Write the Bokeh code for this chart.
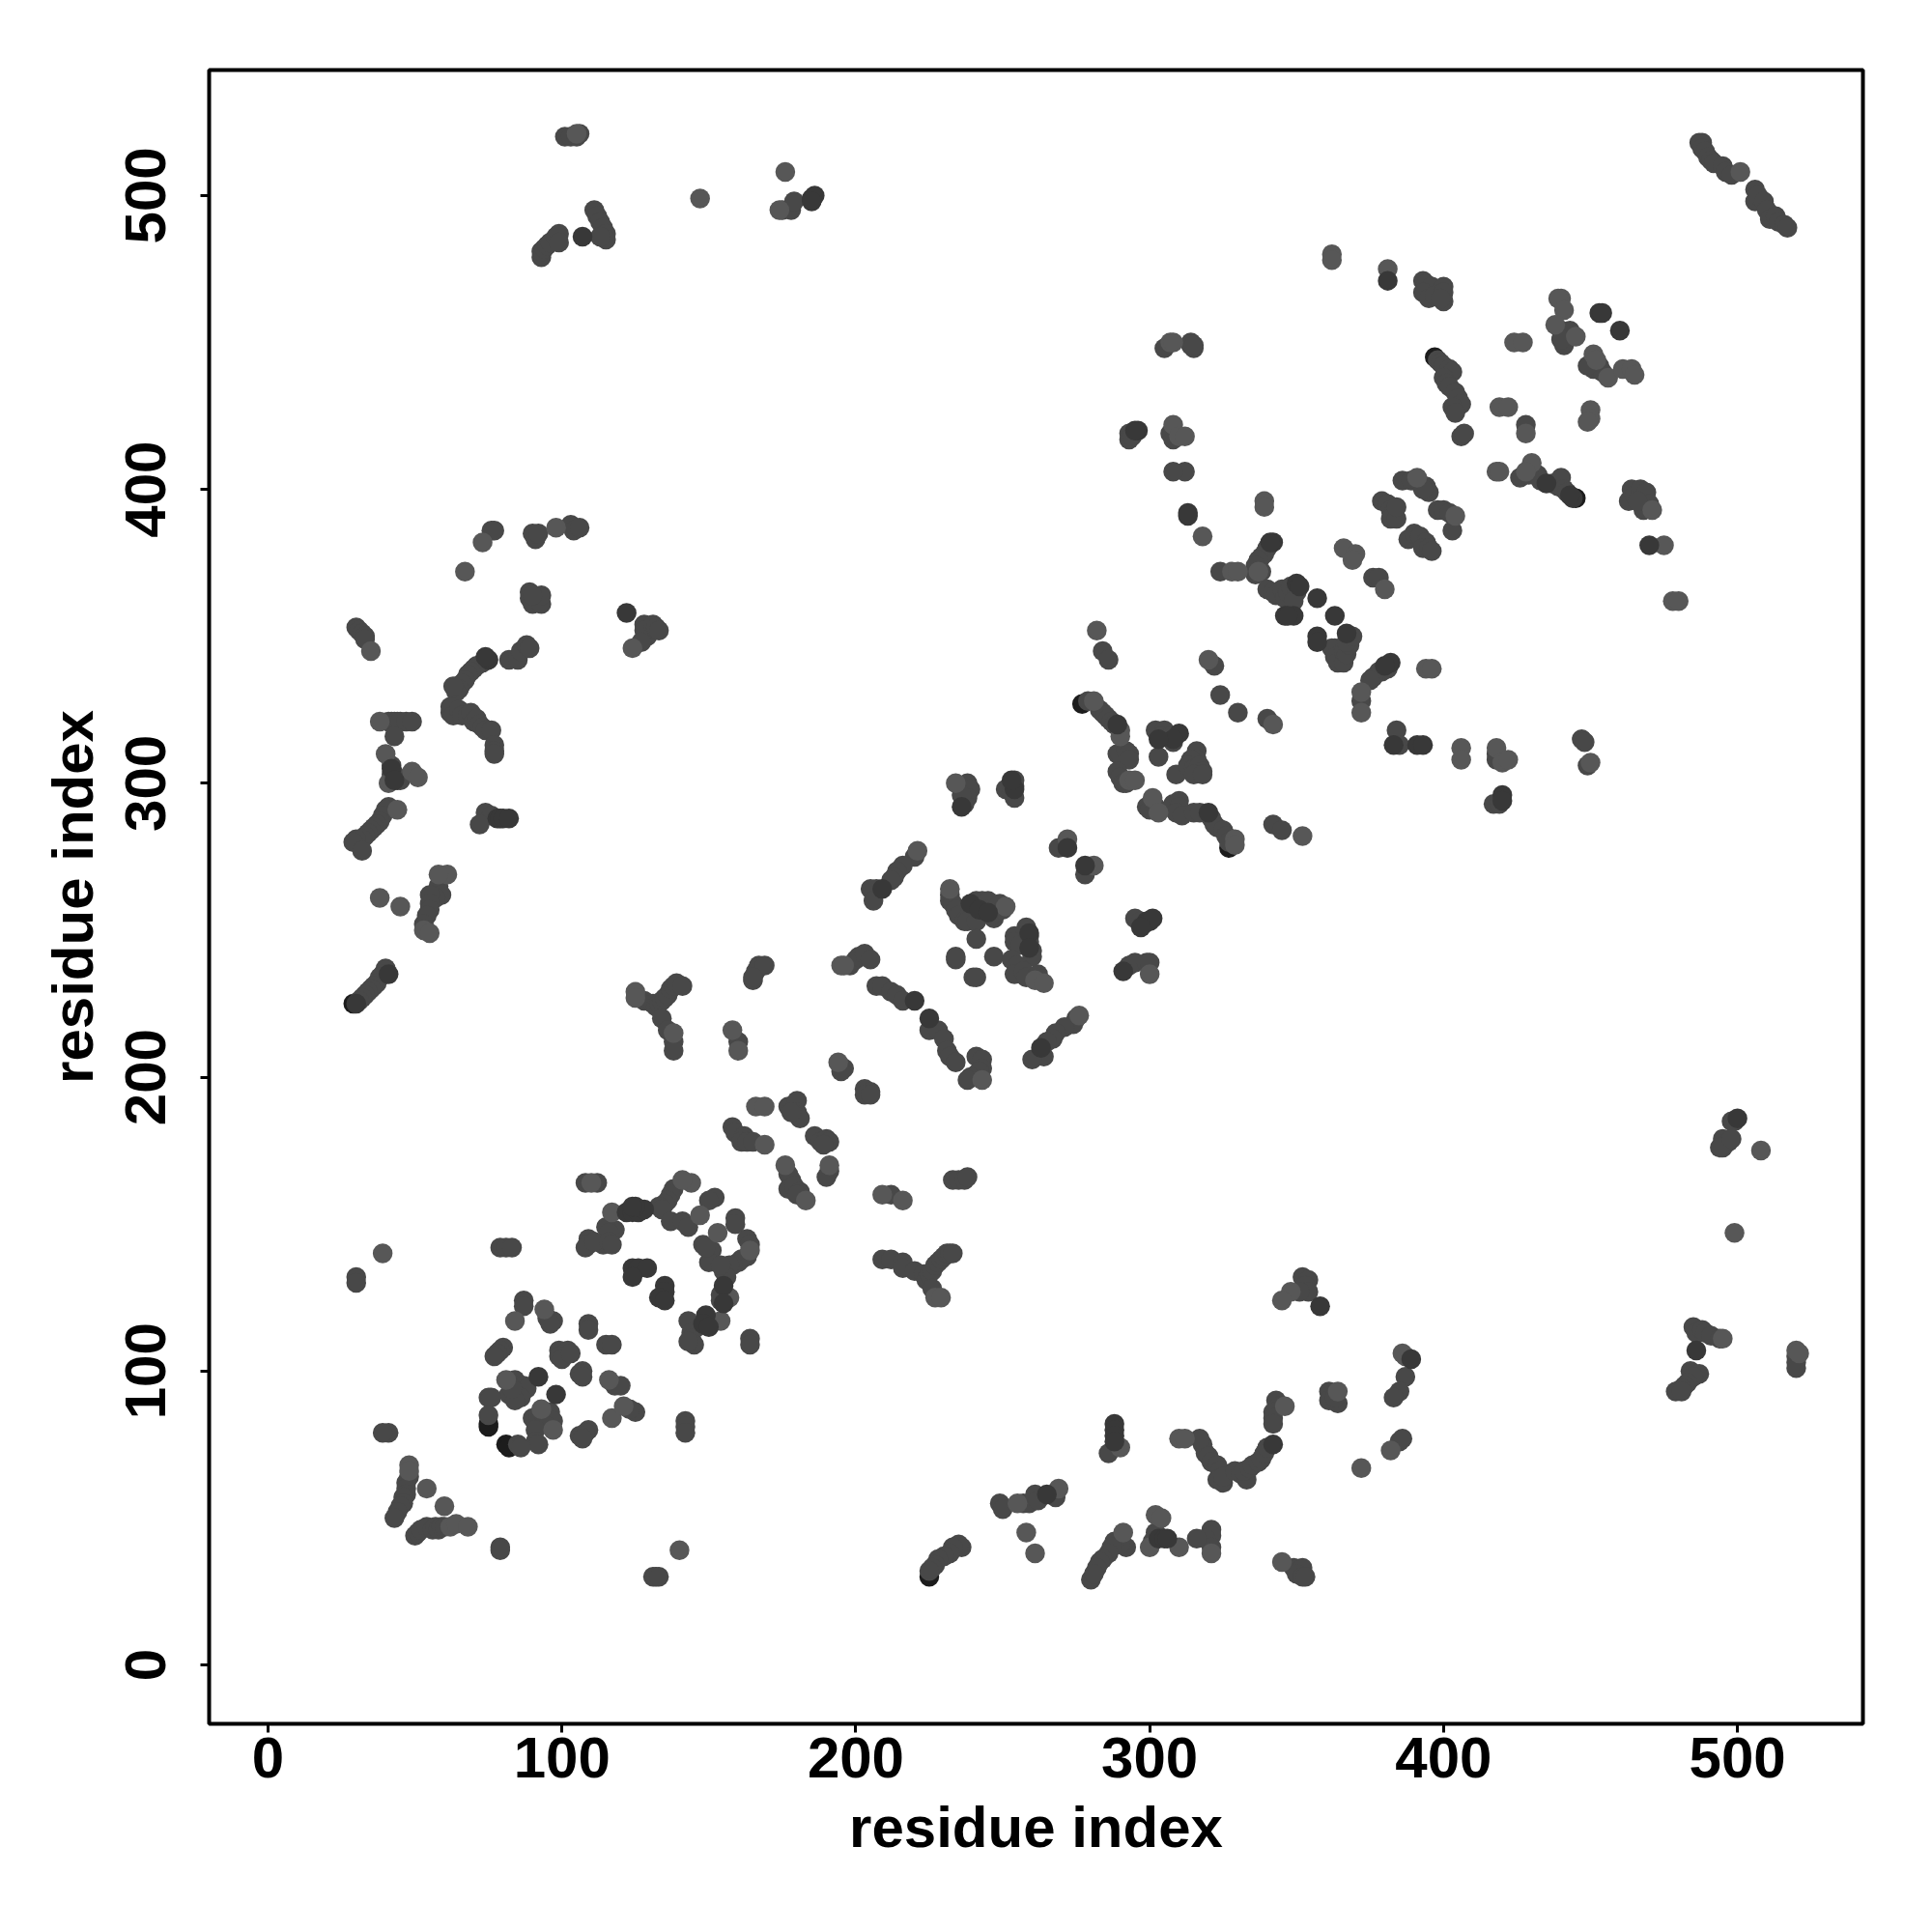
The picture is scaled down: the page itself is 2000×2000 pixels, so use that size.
from bokeh.plotting import figure
from bokeh.models import Range1d, FixedTicker
from bokeh.embed import file_html
from bokeh.resources import INLINE

tick_values = [0, 100, 200, 300, 400, 500]
axis_title = "residue index"

# contact pairs (residue i, residue j), grouped by the grey level of the dot
gray_pts = [
 (101,520),(103,520),(105,520),(106,521),(175,495),(178,495),(179,498),(111,495),(112,493),(113,491),(114,489),(115,487),(115,485),(113,486),
 (93,479),(93,481),(94,482),(95,483),(96,484),(98,486),(99,487),(99,484),(76,386),(77,386),(91,383),(90,385),(92,385),(103,388),(104,386),(106,387),
 (89,365),(89,363),(90,361),(93,361),(93,364),(90,364),(128,354),(129,350),(128,352),(131,354),(132,353),(133,352),(127,348),
 (73,341),(71,340),(70,339),(69,338),(68,337),(67,335),(66,334),(65,332),(64,331),(63,333),(82,342),(85,342),(86,345),(88,347),(89,346),
 (30,353),(31,352),(32,351),(33,350),(33,349),(41,321),(42,321),(43,321),(44,321),(45,321),(47,321),(49,321),(43,316),
 (62,324),(62,326),(63,323),(65,325),(66,323),(68,323),(69,324),(70,321),(71,322),(72,320),(73,319),(74,318),(76,318),(77,313),(77,311),(77,310),
 (42,306),(43,303),(44,301),(42,303),(45,301),(41,292),(40,291),(39,289),(38,287),(37,286),(36,285),(35,284),(34,283),(33,282),(32,281),(30,281),(29,280),(32,277),
 (74,290),(76,289),(72,286),(58,265),(59,262),(57,261),(55,262),(55,259),(55,257),(54,255),(53,252),
 (40,237),(39,235),(38,234),(37,232),(36,231),(35,230),(34,229),(33,228),(32,227),(31,226),
 (128,226),(131,225),(132,224),(133,225),(134,226),(135,227),(136,228),(137,230),(138,231),(139,232),(141,231),(134,220),(136,216),(138,212),(138,209),
 (160,212),(166,236),(167,238),(169,238),(165,233),(165,234),
 (305,448),(315,448),(314,449),(314,450),(315,449),(293,419),(293,417),(294,418),(307,419),(308,417),(312,406),(308,406),
 (340,380),(339,378),(338,377),(337,376),(336,374),(336,371),(338,372),(324,372),
 (340,366),(342,365),(343,364),(345,366),(346,363),(347,365),(348,367),(350,365),(349,362),
 (284,345),(286,342),(322,340),(324,330),(330,324),(340,322),
 (279,328),(283,325),(284,324),(285,323),(286,322),(287,321),(288,320),(289,310),(290,310),(292,311),(293,310),(293,308),(289,304),(290,302),(291,300),(292,300),
 (302,318),(305,318),(304,316),(307,316),(308,314),(303,309),(309,303),(316,311),(316,308),(314,308),(313,306),(315,305),(317,306),(318,304),(315,303),(318,303),
 (299,292),(300,291),(302,292),(308,293),(310,294),(310,292),(309,290),(311,289),(315,290),(317,290),(321,288),(322,286),(323,285),(325,284),(326,282),(327,280),
 (342,286),(345,284),(269,278),(278,269),(254,301),(254,299),(251,298),(253,297),(254,295),(238,300),(239,298),(238,295),(237,293),(236,296),
 (220,275),(216,272),(214,270),(213,268),(212,267),(207,264),(205,264),(206,260),
 (232,262),(232,260),(233,259),(234,257),(235,255),(237,253),(240,259),(239,256),(238,253),(241,253),(241,260),(243,260),(245,260),(245,257),(247,254),(246,255),(249,259),(250,257),
 (241,247),(234,240),(234,241),(247,241),(240,234),(241,234),
 (258,251),(259,248),(259,246),(260,243),(260,241),(257,247),(254,248),(254,246),(256,245),(253,240),(255,238),(254,235),(257,236),(258,234),(262,235),
 (295,254),(297,253),(298,252),(293,238),(295,239),(299,239),(300,239),
 (198,238),(200,240),(201,241),(203,242),(205,240),(207,231),(209,231),(212,229),(214,228),(216,226),
 (225,216),(228,216),(230,213),(231,209),(232,207),(234,205),(241,207),(243,206),(243,203),(241,201),(242,202),(239,200),(238,199),
 (275,220),(274,218),(271,217),(268,215),(267,213),(265,212),(264,207),(260,206),(196,203),(195,202),(203,196),(205,195),(203,194),(205,194),
 (158,183),(159,181),(162,180),(161,178),(163,178),(165,178),(177,190),(180,192),(180,188),(181,186),(178,188),(186,180),(188,178),(190,179),(191,178),(189,177),
 (177,167),(178,165),(177,162),(179,163),(181,161),(180,160),(191,168),(190,166),(108,164),(112,164),(79,142),(81,142),(83,142),(30,132),(30,130),
 (138,162),(137,160),(136,158),(135,157),(133,156),(134,155),(137,151),(141,151),(143,149),(152,159),(150,158),(159,152),(159,150),
 (118,148),(115,149),(116,147),(114,143),(109,145),(109,143),(108,142),(111,144),(116,144),(117,143),(148,143),(151,141),(150,137),(149,142),
 (163,145),(164,143),(163,139),(161,138),(160,137),(158,136),(157,136),(155,134),(156,132),(154,136),(154,126),(154,124),
 (146,115),(143,117),(144,113),(144,111),(145,109),(143,110),(164,111),(164,109),(87,124),(87,122),(95,118),(97,117),(96,116),(109,116),(109,114),(115,109),(117,109),
 (80,108),(79,107),(78,106),(77,105),(99,107),(102,107),(99,105),(100,104),(103,106),(107,100),(106,99),(107,98),(118,95),(120,95),
 (84,97),(85,95),(87,95),(88,94),(84,92),(86,91),(82,92),(84,90),(75,91),(76,91),(83,94),(75,85),(90,84),(92,85),(94,83),(96,86),(97,83),(94,82),(91,80),(91,76),(92,75),
 (85,75),(86,74),(109,80),(108,79),(106,78),(107,77),(125,86),(123,87),(142,83),(142,81),(142,79),(41,79),(39,79),
 (48,64),(47,62),(47,60),(47,58),(46,57),(46,55),(45,54),(44,52),(43,50),(50,44),(51,45),(52,46),(54,47),(56,46),(57,47),(58,46),(59,47),(60,47),(79,40),(79,39),(131,30),(132,30),(133,30),
 (233,165),(235,165),(237,165),(238,166),(212,160),(209,138),(212,138),(216,137),(216,135),(220,134),(223,133),(224,131),(225,133),(226,134),(227,136),(228,137),(229,138),(230,139),(231,140),(232,140),(233,140),(226,128),
 (352,132),(354,131),(353,129),(354,127),(351,127),(286,72),(318,75),(319,72),(320,71),(321,69),(323,68),(324,66),(323,63),(325,62),(325,64),(317,77),
 (329,66),(331,65),(333,63),(332,66),(334,67),(335,68),(337,69),(338,70),(339,72),(340,74),(343,90),(344,88),(342,86),(342,84),(342,82),
 (249,55),(250,53),(257,55),(259,55),(261,58),(262,56),(268,57),(236,40),(235,41),(233,40),(232,38),(230,37),(228,36),(227,34),(226,33),(225,32),
 (292,40),(290,41),(288,42),(287,40),(286,38),(284,36),(283,35),(282,33),(280,29),(281,31),(302,45),(301,42),(321,46),(321,44),(319,43),(321,40),(316,43),
 (349,33),(352,33),(350,31),(352,30),(353,30),(499,185),(498,185),(495,179),(497,178),(495,176),(494,176),(498,179),
 (485,115),(486,113),(488,114),(489,113),(491,112),(494,111),(484,100),(487,99),(485,98),(483,96),(482,95),(481,94),(479,93),(481,93),(520,105),(520,103),(520,101),
 (387,98),(385,93),(383,91),(361,93),(361,90),(364,89),(363,91),(385,76),(386,77),
 (393,471),(394,470),(396,469),(393,467),(395,465),(397,466),(400,469),(400,467),(400,464),(399,465),
 (487,518),(488,518),(488,516),(489,515),(490,513),(491,512),(492,511),(495,510),(496,508),(498,507),(506,502),(506,498),(507,500),(509,498),(510,495),(511,492),(513,493),(514,491),(516,490),(517,489),
 (440,454),(441,453),(442,452),(443,454),(441,449),(440,451),(451,441),(453,442),(454,440),(449,442),(398,444),(399,443),(400,442),(402,441),(403,440),(400,438),(401,436),(402,435),(404,433),(405,431),(406,429),(403,428),(404,426),
 (406,418),(407,419),(428,422),(426,404),(429,405),(432,405),(433,403),(437,402),(439,401),(440,404),(441,400),(442,399),
 (463,396),(464,400),(465,398),(467,400),(469,399),(468,393),(470,395),(466,396),
 (386,403),(389,403),(392,402),(394,401),(395,399),(393,400),(379,396),(381,395),(382,393),(383,392),(382,390),(384,390),(384,394),
 (398,393),(400,393),(402,392),(403,386),(388,383),(390,385),(392,384),(394,382),(393,380),(395,380),(396,379),(376,370),(378,370),
 (363,346),(362,346),(363,343),(364,341),(366,341),(366,345),(367,344),(368,347),(367,348),(369,350),(381,339),(379,338),(378,338),(376,336),(375,335),
 (372,328),(384,318),(385,313),(418,308),(418,310),(417,293),(419,293),(447,315),(448,314),(449,306),
]
light_pts = [
 (176,508),(147,499),(73,382),(67,372),(98,387),(35,345),(38,321),(124,346),(40,310),(49,304),(51,302),(41,300),(61,269),(58,269),(53,250),(55,249),(38,261),(45,258),
 (125,229),(125,227),(138,215),(158,216),(160,209),(195,238),(44,291),(105,521),
 (307,450),(308,450),(308,422),(310,418),(312,418),(339,396),(339,394),(318,384),(328,372),(330,372),(337,372),(282,352),(320,342),(342,320),
 (281,328),(290,318),(290,316),(293,301),(295,301),(301,295),(303,290),(329,281),(329,279),(352,282),(272,281),(281,272),(234,300),(221,277),(232,264),(251,258),(261,233),(264,232),(300,235),(196,238),(243,199),
 (276,221),(194,205),(166,190),(169,190),(169,177),(176,170),(183,158),(191,170),(110,164),(39,140),(117,154),(147,153),(153,147),(144,164),(141,165),(164,141),(157,125),(154,117),(84,117),(94,121),(116,97),(117,84),(121,88),(81,97),(93,87),(97,80),
 (48,68),(48,66),(54,60),(60,54),(62,47),(64,48),(68,47),(140,39),(209,160),(216,158),(227,125),(229,125),(348,127),(345,124),
 (290,74),(310,77),(312,77),(346,88),(255,55),(269,60),(258,45),(261,38),(291,45),(302,51),(304,50),(300,40),(310,40),(321,38),(345,35),
 (508,175),(499,147),(495,111),(520,107),(521,106),(387,105),(386,106),(382,73),(372,67),(364,93),(362,480),(362,478),(381,475),
 (501,508),(440,465),(439,465),(441,461),(438,456),(445,452),(424,450),(427,450),(451,446),(452,444),(456,438),(461,441),(464,441),(465,439),(418,406),(419,406),(428,419),(419,428),(422,428),(450,427),(450,424),(449,423),
 (430,409),(428,406),(471,393),(475,381),(478,362),(480,362),(391,404),(404,391),(366,380),(370,378),(369,376),(380,366),(394,339),(396,339),(372,331),(372,324),(406,312),(406,308),(418,312),(420,307),(422,308),(450,307),(174,495),
]
dark_pts = [
 (185,499),(186,500),(185,498),(107,486),(122,358),(75,342),(74,343),(78,288),(79,288),(80,288),(82,288),(42,305),(43,301),(41,235),(30,225),(124,135),(126,135),(129,135),(124,132),
 (135,129),(135,127),(133,125),(135,124),(155,129),(155,123),(149,119),(148,116),(150,115),(92,98),(98,92),(122,154),(124,154),(126,154),(128,155),(125,156),(124,156),
 (342,382),(341,382),(350,368),(351,367),(313,392),(313,391),(296,420),(295,420),(357,363),(363,357),(346,357),(349,357),(347,357),(357,350),(357,348),(367,351),
 (289,320),(310,317),(308,315),(303,315),(320,290),(272,278),(278,272),(254,298),(209,264),(259,249),(259,244),(299,253),(300,253),(301,254),(297,251),(291,236),(220,226),(225,220),(263,210),
 (288,82),(288,80),(288,78),(288,76),(303,43),(305,43),(306,43),(342,75),(358,122),(389,104),(500,186),(486,107),(381,471),(453,460),(454,460),(460,454),
 (435,402),(444,397),(443,398),(470,381),(382,341),(380,340),(383,313),(391,313),(393,313),(420,296),(420,294),(253,301),(265,58),(236,292),(239,259),(242,257),(245,256),
]
black_pts = [
 (277,327),(327,278),(75,82),(75,81),(81,75),(82,74),(225,30),(445,397),(397,445),(29,225),
]

x_gray = [p[0] for p in gray_pts]; y_gray = [p[1] for p in gray_pts]
x_light = [p[0] for p in light_pts]; y_light = [p[1] for p in light_pts]
x_dark = [p[0] for p in dark_pts]; y_dark = [p[1] for p in dark_pts]
x_black = [p[0] for p in black_pts]; y_black = [p[1] for p in black_pts]

p = figure(frame_width=1712, frame_height=1712, output_backend="svg", toolbar_location=None,
           x_range=Range1d(-20.05, 542.7), y_range=Range1d(-20.05, 542.7),
           min_border_left=216, min_border_right=64, min_border_top=72, min_border_bottom=200,
           background_fill_color="white", border_fill_color="white")
p.grid.visible = False
p.outline_line_color = "black"
p.outline_line_width = 4

DOT = 20.5
p.scatter(x_black, y_black, size=DOT, color="#1c1c1c", line_color=None)
p.scatter(x_gray, y_gray, size=DOT, color="#484848", line_color=None)
p.scatter(x_light, y_light, size=DOT, color="#575757", line_color=None)
p.scatter(x_dark, y_dark, size=DOT, color="#383838", line_color=None)

for ax in (p.xaxis[0], p.yaxis[0]):
    ax.ticker = FixedTicker(ticks=tick_values)
    ax.axis_label = axis_title
    ax.axis_line_color = None
    ax.major_tick_in = 0
    ax.major_tick_out = 9
    ax.major_tick_line_width = 3
    ax.major_tick_line_color = "black"
    ax.minor_tick_line_color = None
    ax.major_label_text_font = "Liberation Sans"
    ax.major_label_text_font_style = "bold"
    ax.major_label_text_font_size = "60px"
    ax.major_label_text_color = "black"
    ax.axis_label_text_font = "Liberation Sans"
    ax.axis_label_text_font_style = "bold"
    ax.axis_label_text_font_size = "60px"
    ax.axis_label_text_color = "black"

p.yaxis[0].major_label_orientation = "vertical"
p.xaxis[0].major_label_standoff = 5
p.yaxis[0].major_label_standoff = 36
p.xaxis[0].axis_label_standoff = 15
p.yaxis[0].axis_label_standoff = 19

open("out.html", "w").write(file_html(p, INLINE))
